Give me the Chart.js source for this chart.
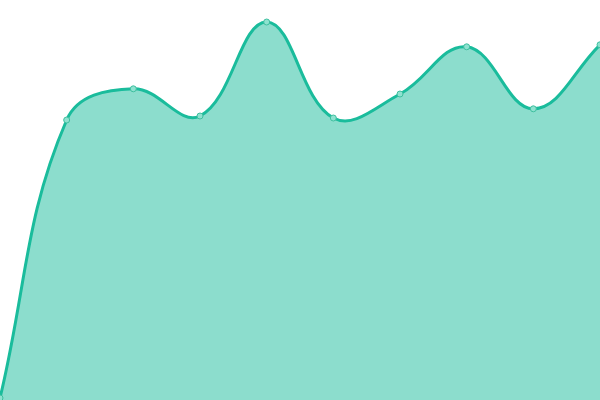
<!DOCTYPE html>
<html>
<head>
<meta charset="utf-8">
<script src="https://cdn.jsdelivr.net/npm/chart.js@4"></script>
<style>
  html, body { margin: 0; padding: 0; background: #fff; }
  #wrap { width: 600px; height: 400px; }
</style>
</head>
<body>
<div id="wrap"><canvas id="myChart"></canvas></div>
<script>
const labels = ['1', '2', '3', '4', '5', '6', '7', '8', '9', '10'];
const values = [0.5, 70, 77.8, 71, 94.5, 70.5, 76.5, 88.3, 72.8, 88.8];

const ctx = document.getElementById('myChart');
const myChart = new Chart(ctx, {
    type: 'line',
    data: {
        labels: labels,
        datasets: [{
            data: values,
            fill: true,
            tension: 0.4,
            borderColor: '#1abc9c',
            backgroundColor: 'rgba(26, 188, 156, 0.5)',
            borderWidth: 3,
            pointRadius: 3,
            pointBorderWidth: 1,
            pointBackgroundColor: '#8ee2d0',
            pointBorderColor: '#3fbf9f'
        }]
    },
    options: {
        responsive: true,
        maintainAspectRatio: false,
        animation: false,
        scales: {
            x: { display: false },
            y: { display: false, min: 0, max: 100 }
        },
        plugins: {
            legend: { display: false },
            tooltip: { enabled: false }
        },
        layout: {
            padding: 0,
            autoPadding: false
        }
    }
});
</script>
</body>
</html>
